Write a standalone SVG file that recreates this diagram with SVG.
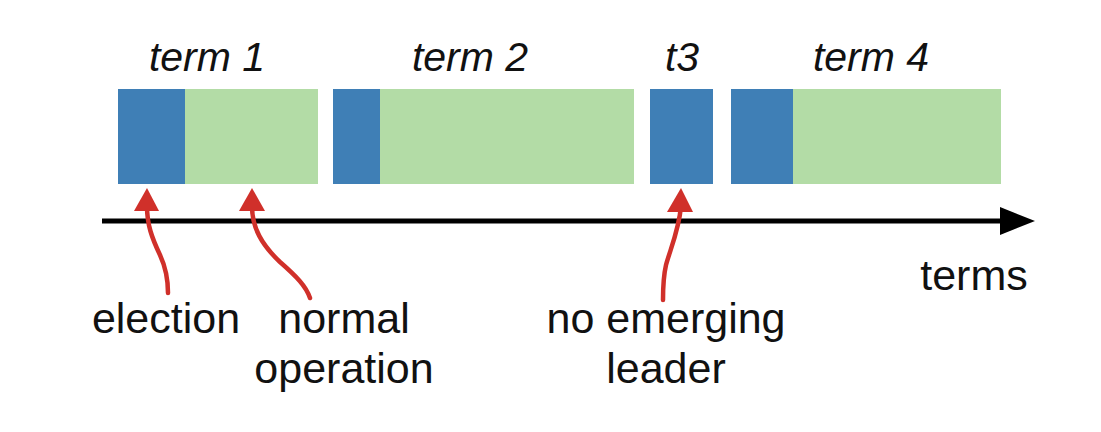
<svg xmlns="http://www.w3.org/2000/svg" width="1101" height="432" viewBox="0 0 1101 432">
<style>
.blue{fill:#3f7fb6}
.green{fill:#b3dca6}
.lbl{font-family:"Liberation Sans",Arial,sans-serif;font-size:41px;font-style:italic;fill:#111;text-anchor:middle}
.txt{font-family:"Liberation Sans",Arial,sans-serif;font-size:43px;fill:#111;text-anchor:middle}
.red{fill:none;stroke:#d0302a;stroke-width:4.5;stroke-linecap:round}
.redhead{fill:#d0302a}
</style>
<rect width="1101" height="432" fill="#fff"/>
<g id="term1">
<rect class="blue" x="118" y="89" width="67" height="95"/>
<rect class="green" x="185" y="89" width="133" height="95"/>
<text class="lbl" x="207" y="71">term 1</text>
</g>
<g id="term2">
<rect class="blue" x="333" y="89" width="47" height="95"/>
<rect class="green" x="380" y="89" width="254" height="95"/>
<text class="lbl" x="470" y="71">term 2</text>
</g>
<g id="term3">
<rect class="blue" x="650" y="89" width="63" height="95"/>
<text class="lbl" x="682" y="71">t3</text>
</g>
<g id="term4">
<rect class="blue" x="731" y="89" width="62" height="95"/>
<rect class="green" x="793" y="89" width="208" height="95"/>
<text class="lbl" x="871" y="71">term 4</text>
</g>
<g id="axis">
<line x1="102" y1="221" x2="1004" y2="221" stroke="#000" stroke-width="5"/>
<polygon points="1000,207 1035,221 1000,235" fill="#000"/>
<text class="txt" x="974" y="290">terms</text>
</g>
<g id="connectors">
<path class="red" d="M147,206 C147,225 152,238 160,255 C166,268 168,280 168,293"/>
<polygon class="redhead" points="147,188 159,211 134,211"/>
<path class="red" d="M252,206 C252,228 262,245 280,262 C296,276 306,286 310,298"/>
<polygon class="redhead" points="252,188 265,211 239,211"/>
<path class="red" d="M681,206 C679,230 670,250 666,265 C663,278 663,290 663,300"/>
<polygon class="redhead" points="681,188 693,212 667,212"/>
</g>
<g id="labels">
<text class="txt" x="166" y="333">election</text>
<text class="txt" x="344" y="333">normal</text>
<text class="txt" x="344" y="383">operation</text>
<text class="txt" x="666" y="333">no emerging</text>
<text class="txt" x="666" y="383">leader</text>
</g>
</svg>
